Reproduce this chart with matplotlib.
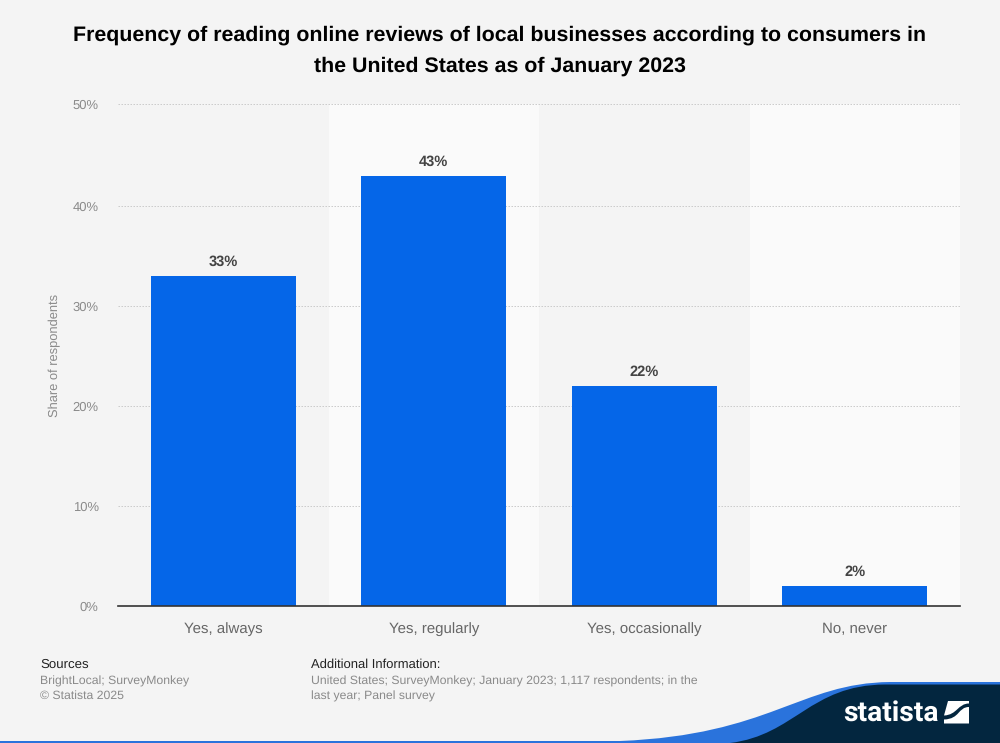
import matplotlib
matplotlib.use("Agg")
import matplotlib.pyplot as plt
from matplotlib.patches import PathPatch, Rectangle
from matplotlib.path import Path

plt.rcParams['font.family'] = ['Liberation Sans', 'DejaVu Sans']
plt.rcParams['text.hinting'] = 'no_hinting'

# Data
categories = ["Yes, always", "Yes, regularly", "Yes, occasionally", "No, never"]
shares = [33, 43, 22, 2]
y_labels = ["0%", "10%", "20%", "30%", "40%", "50%"]
y_ticks = [0, 10, 20, 30, 40, 50.2]  # the top line sits a touch high in the original
title = ("Frequency of reading online reviews of local businesses according to consumers in\n"
         "the United States as of January 2023")
sources = "BrightLocal; SurveyMonkey\n© Statista 2025"
additional = ("United States; SurveyMonkey; January 2023; 1,117 respondents; in the\n"
              "last year; Panel survey")

BG = "#f4f4f4"
BLUE = "#0566e8"
W, H = 1000, 743

fig = plt.figure(figsize=(W / 100, H / 100), dpi=100, facecolor=BG)

# axes placed in pixels, 10 px per percentage point
ax = fig.add_axes([118 / W, 1 - 606.3 / H, 842 / W, 502.3 / H], facecolor=BG)
ax.set_xlim(-0.5, 3.5)
ax.set_ylim(0, 50.23)

# lighter bands behind every second category
for i in [1, 3]:
    ax.axvspan(i - 0.5, i + 0.5, color="#fafafa", lw=0, zorder=0)

ax.set_yticks(y_ticks)
ax.set_yticklabels(y_labels, color="#8a8a8a", fontsize=9.4)
ax.set_xticks(range(len(categories)))
ax.set_xticklabels(categories, color="#666666", fontsize=10.8)
ax.tick_params(axis="both", length=0)
ax.tick_params(axis="x", pad=11.2)
ax.tick_params(axis="y", pad=14)
ax.grid(axis="y", color="#cccccc", linestyle=(0, (1.5, 1.5)), linewidth=0.72, zorder=1)
ax.set_axisbelow(True)
for side in ["top", "right", "left"]:
    ax.spines[side].set_visible(False)
ax.spines["bottom"].set_color("#333333")
ax.spines["bottom"].set_linewidth(1.2)

ax.bar(range(len(categories)), shares, width=0.688, color=BLUE, zorder=2)
for i, v in enumerate(shares):
    ax.annotate(f"{v}%", (i, v), xytext=(0, 5), textcoords="offset points", ha="center",
                va="bottom", fontsize=10.5, fontweight="bold", color="#444444")

fig.text(55 / W, 1 - 355 / H, "Share of respondents", rotation=90, ha="center", va="center",
         fontsize=9.3, color="#8a8a8a")
fig.text(499.5 / W, 1 - 50.5 / H, title, ha="center", va="center", fontsize=15.4,
         fontweight="bold", color="#000000", linespacing=1.72)

# footer text
fig.text(40 / W, 1 - 665 / H, "Sources", fontsize=9.5, color="#222222", va="center")
fig.text(40 / W, 1 - 688.5 / H, sources, fontsize=8.8, color="#8a8a8a", va="center", linespacing=1.45)
fig.text(311 / W, 1 - 665 / H, "Additional Information:", fontsize=9.4, color="#222222", va="center")
fig.text(311 / W, 1 - 688.5 / H, additional, fontsize=8.8, color="#8a8a8a", va="center", linespacing=1.45)

# footer wave and logo, in pixel coordinates
deco = fig.add_axes([0, 0, 1, 1], facecolor="none")
deco.set_xlim(0, W)
deco.set_ylim(H, 0)
deco.axis("off")
deco.add_patch(Rectangle((0, 740.5), 760, 2.5, color="#2a73dc", lw=0))
M, L, C, Z = Path.MOVETO, Path.LINETO, Path.CURVE4, Path.CLOSEPOLY
blue_path = Path([(620, 741), (770, 735), (800, 683), (890, 682), (1000, 682), (1000, 743), (620, 743), (620, 741)],
                 [M, C, C, C, L, L, L, Z])
dark_path = Path([(730, 743), (795, 735), (810, 685), (885, 684.5), (1000, 684.5), (1000, 743), (730, 743)],
                 [M, C, C, C, L, L, Z])
deco.add_patch(PathPatch(blue_path, facecolor="#2a73dc", lw=0))
deco.add_patch(PathPatch(dark_path, facecolor="#03263f", lw=0))
deco.text(843, 713, "statista", fontsize=20.3, fontweight="bold", color="white", va="center",
          family=["Roboto", "DejaVu Sans"])
mark_top = Path([(948, 701), (969, 701), (969, 703.5), (958, 703.5), (957, 715), (944, 715.5), (948, 701)],
                [M, L, L, C, C, C, Z])
mark_bottom = Path([(969, 707), (969, 723.5), (944, 723.5), (944, 719.5), (960, 719), (958, 707), (969, 707)],
                   [M, L, L, L, C, C, C])
deco.add_patch(PathPatch(mark_top, facecolor="white", lw=0))
deco.add_patch(PathPatch(mark_bottom, facecolor="white", lw=0))

fig.savefig("out.png", dpi=100, facecolor=BG)
